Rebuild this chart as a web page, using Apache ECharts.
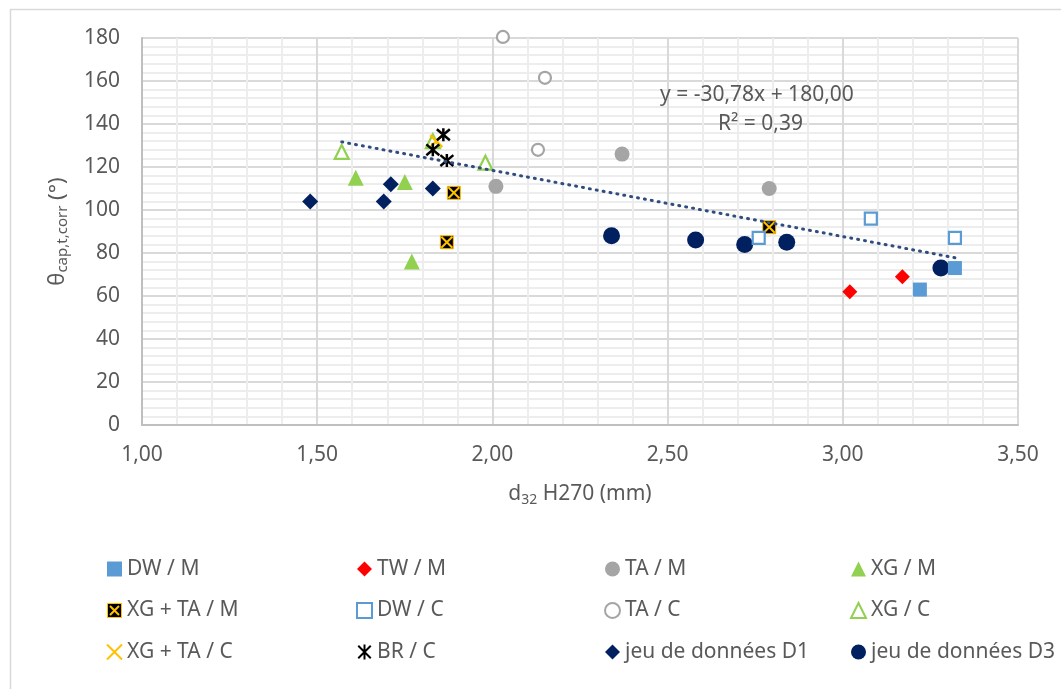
<!DOCTYPE html>
<html>
<head>
<meta charset="utf-8">
<script src="https://cdn.jsdelivr.net/npm/echarts@6/dist/echarts.min.js"></script>
<style>
html,body{margin:0;padding:0;background:#fff;}
#c{width:1061px;height:689px;}
</style>
</head>
<body>
<div id="c"></div>
<script>
// ---- data (x = d32 H270 in mm, y = theta in degrees) ----
const dwM    = [[3.22, 63], [3.32, 73]];
const twM    = [[3.02, 62], [3.17, 69]];
const taM    = [[2.01, 111], [2.37, 126], [2.79, 110]];
const xgM    = [[1.61, 115], [1.75, 113], [1.77, 76]];
const xgtaM  = [[1.89, 108], [1.87, 85], [2.79, 92]];
const dwC    = [[2.76, 87], [3.08, 96], [3.32, 87]];
const taC    = [[2.03, 180.5], [2.15, 161.5], [2.13, 128]];
const xgC    = [[1.57, 127], [1.98, 122], [1.83, 132]];
const xgtaC  = [[1.84, 132]];
const brC    = [[1.86, 135], [1.83, 128], [1.87, 123]];
const d1     = [[1.48, 104], [1.69, 104], [1.71, 112], [1.83, 110]];
const d3     = [[2.34, 88], [2.58, 86], [2.72, 84], [2.84, 85], [3.28, 73]];

// trendline as printed on the chart: y = -30,78x + 180,00 ; R² = 0,39
const trendSlope = -30.78;
const trendIntercept = 180.00;
const trendXRange = [1.57, 3.32];
const trendLabel = 'y = -30,78x + 180,00';
const r2Label = 'R² = 0,39';

const xTicks = {min: 1, max: 3.5, interval: 0.5};
const yTicks = {min: 0, max: 180, interval: 20};

const trendData = trendXRange.map(x => [x, trendSlope * x + trendIntercept]);

const FONT = 'Noto Sans';
const TXT = '#595959';
const xPath = 'path://M0,0L10,10M10,0L0,10';
const starPath = 'path://M0,0L10,10M10,0L0,10M5,-1L5,11';

const xgtaMIconSvg = '<svg xmlns="http://www.w3.org/2000/svg" width="15" height="15" viewBox="0 0 15 15">' +
  '<rect x="0.5" y="0.5" width="14" height="14" fill="#000" stroke="#FFC000" stroke-width="1"/>' +
  '<path d="M3,3L12,12M12,3L3,12" stroke="#FFC000" stroke-width="2"/></svg>';
const xgtaMIcon = 'image://data:image/svg+xml;charset=utf-8,' + encodeURIComponent(xgtaMIconSvg);

const chart = echarts.init(document.getElementById('c'), null, {renderer: 'canvas'});

function legendCol(left, names) {
  return {
    orient: 'vertical', left: left, top: 558, padding: 0,
    itemWidth: 15, itemHeight: 15, itemGap: 19.5,
    data: names,
    textStyle: {fontFamily: FONT, fontSize: 21, color: TXT, lineHeight: 22},
    selectedMode: false
  };
}

const option = {
  animation: false,
  backgroundColor: '#fff',
  grid: {left: 142, right: 43, top: 38, bottom: 264, containLabel: false},
  xAxis: {
    type: 'value', min: xTicks.min, max: xTicks.max, interval: xTicks.interval,
    name: 'd{sub|32} H270 (mm)', nameLocation: 'middle', nameGap: 56,
    nameTextStyle: {fontFamily: FONT, fontSize: 21, color: TXT,
      rich: {sub: {fontFamily: FONT, fontSize: 14, color: TXT, padding: [12, 0, 0, 0]}}},
    axisLine: {show: true, lineStyle: {color: '#BFBFBF', width: 2}},
    axisTick: {show: false},
    axisLabel: {fontFamily: FONT, fontSize: 21, color: TXT, margin: 20,
      formatter: v => v.toFixed(2).replace('.', ',')},
    splitLine: {show: true, lineStyle: {color: '#D9D9D9', width: 2}},
    minorTick: {show: false, splitNumber: 5},
    minorSplitLine: {show: true, lineStyle: {color: '#EDEDED', width: 2}}
  },
  yAxis: {
    type: 'value', min: yTicks.min, max: yTicks.max, interval: yTicks.interval,
    name: 'θ{sub|cap,t,corr} (°)', nameLocation: 'middle', nameGap: 72, nameRotate: 90,
    nameTextStyle: {fontFamily: FONT, fontSize: 22, color: TXT,
      rich: {sub: {fontFamily: FONT, fontSize: 15, color: TXT, padding: [10, 0, 0, 0]}}},
    axisLine: {show: true, lineStyle: {color: '#BFBFBF', width: 2}},
    axisTick: {show: false},
    axisLabel: {fontFamily: FONT, fontSize: 21, color: TXT, margin: 22},
    splitLine: {show: true, lineStyle: {color: '#D9D9D9', width: 2}},
    minorTick: {show: false, splitNumber: 5},
    minorSplitLine: {show: true, lineStyle: {color: '#EDEDED', width: 2}}
  },
  legend: [
    legendCol(106, ['DW / M', {name: 'XG + TA / M', icon: xgtaMIcon}, 'XG + TA / C']),
    legendCol(356, ['TW / M', 'DW / C', 'BR / C']),
    legendCol(604, ['TA / M', 'TA / C', 'jeu de données D1']),
    legendCol(850, ['XG / M', 'XG / C', 'jeu de données D3'])
  ],
  graphic: [
    {type: 'rect', left: 8, top: 7, silent: true, z: -10,
      shape: {width: 1070, height: 700}, style: {fill: 'none', stroke: '#D9D9D9', lineWidth: 1.5}},
    {type: 'text', top: 85, left: 660, silent: true, z: 100,
      style: {text: trendLabel, font: '21px "Noto Sans"', fill: TXT}},
    {type: 'text', top: 114, left: 718, silent: true, z: 100,
      style: {text: r2Label, font: '21px "Noto Sans"', fill: TXT}}
  ],
  series: [
    {name: 'jeu de données D1', type: 'scatter', data: d1, symbol: 'diamond', symbolSize: 16,
      itemStyle: {color: '#002060', opacity: 1}},
    {name: 'jeu de données D3', type: 'scatter', data: d3, symbol: 'circle', symbolSize: 17,
      itemStyle: {color: '#002060', opacity: 1}},
    {name: 'DW / M', type: 'scatter', data: dwM, symbol: 'rect', symbolSize: 14,
      itemStyle: {color: '#5B9BD5', opacity: 1}},
    {name: 'TW / M', type: 'scatter', data: twM, symbol: 'diamond', symbolSize: 15,
      itemStyle: {color: '#FF0000', opacity: 1}},
    {name: 'TA / M', type: 'scatter', data: taM, symbol: 'circle', symbolSize: 15,
      itemStyle: {color: '#A5A5A5', opacity: 1}},
    {name: 'XG / M', type: 'scatter', data: xgM, symbol: 'triangle', symbolSize: 16,
      itemStyle: {color: '#92D050', opacity: 1}},
    {name: 'XG + TA / M', type: 'scatter', data: xgtaM, symbol: 'rect', symbolSize: 13,
      itemStyle: {color: '#000000', borderColor: '#FFC000', borderWidth: 1, opacity: 1}},
    {name: 'XG + TA / M', type: 'scatter', data: xgtaM, symbol: xPath, symbolSize: 11,
      itemStyle: {color: 'rgba(0,0,0,0)', borderColor: '#FFC000', borderWidth: 2, opacity: 1}},
    {name: 'DW / C', type: 'scatter', data: dwC, symbol: 'rect', symbolSize: 12,
      itemStyle: {color: '#FFFFFF', borderColor: '#5B9BD5', borderWidth: 2.2, opacity: 1}},
    {name: 'TA / C', type: 'scatter', data: taC, symbol: 'circle', symbolSize: 12, clip: false,
      itemStyle: {color: '#FFFFFF', borderColor: '#A5A5A5', borderWidth: 2.2, opacity: 1}},
    {name: 'XG / C', type: 'scatter', data: xgC, symbol: 'triangle', symbolSize: 14,
      itemStyle: {color: '#FFFFFF', borderColor: '#92D050', borderWidth: 2.2, opacity: 1}},
    {name: 'XG + TA / C', type: 'scatter', data: xgtaC, symbol: xPath, symbolSize: 12,
      itemStyle: {color: 'rgba(0,0,0,0)', borderColor: '#FFC000', borderWidth: 2.5, opacity: 1}},
    {name: 'BR / C', type: 'scatter', data: brC, symbol: starPath, symbolSize: 13,
      itemStyle: {color: 'rgba(0,0,0,0)', borderColor: '#000000', borderWidth: 2.5, opacity: 1}},
    {name: 'trend', type: 'line', data: trendData, symbol: 'none', z: 5,
      lineStyle: {color: '#2F4D7E', width: 3, type: [1, 6], cap: 'round'}}
  ]
};
chart.setOption(option);
</script>
</body>
</html>
